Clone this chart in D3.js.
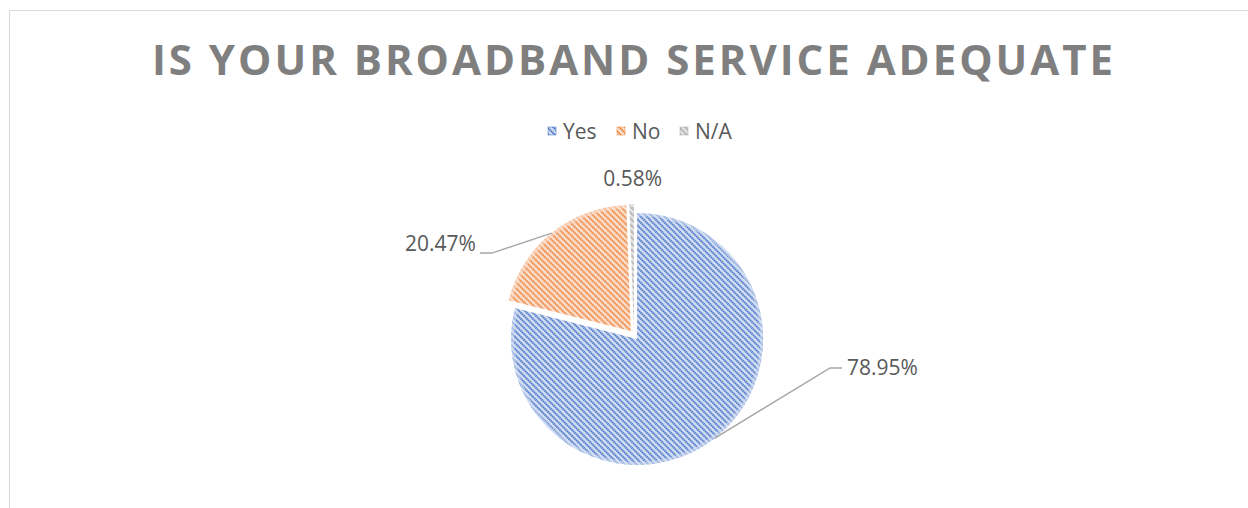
<!DOCTYPE html>
<html>
<head>
<meta charset="utf-8">
<script src="https://cdn.jsdelivr.net/npm/d3@7"></script>
<style>
  body { margin: 0; background: #fff; }
  svg { display: block; font-family: "Open Sans", sans-serif; }
</style>
</head>
<body>
<div id="chart"></div>
<script>
// data
const title = "IS YOUR BROADBAND SERVICE ADEQUATE";
const categories = ["Yes", "No", "N/A"];
const shares = [78.95, 20.47, 0.58];
const colors = ["#4472c4", "#ed7d31", "#a5a5a5"];
const lightColors = ["#d6e0f4", "#fbe2d2", "#e6e6e6"];

const width = 1248;
const height = 508;

const svg = d3.select("#chart").append("svg")
    .attr("width", width)
    .attr("height", height);

// chart frame (cropped on the right and bottom)
svg.append("rect")
    .attr("x", 9.5).attr("y", 10.5)
    .attr("width", width + 20).attr("height", height + 20)
    .attr("fill", "none")
    .attr("stroke", "#d9d9d9")
    .attr("stroke-width", 1);

// hatch patterns, one per slice
const defs = svg.append("defs");
categories.forEach((c, i) => {
    let p = defs.append("pattern")
        .attr("id", "hatch" + i)
        .attr("patternUnits", "userSpaceOnUse")
        .attr("width", 6).attr("height", 6);
    p.append("rect").attr("width", 6).attr("height", 6).attr("fill", lightColors[i]);
    p.append("path")
        .attr("d", "M-1,-1 L7,7 M-1,5 L1,7 M5,-1 L7,1")
        .attr("stroke", colors[i])
        .attr("stroke-width", 2)
        .attr("stroke-dasharray", "1.5 0.6");
});

// title
svg.append("text")
    .attr("x", 632.5).attr("y", 75)
    .attr("text-anchor", "middle")
    .attr("font-size", 42)
    .attr("font-weight", 700)
    .attr("fill", "#7f7f7f")
    .attr("textLength", 961)
    .attr("lengthAdjust", "spacing")
    .text(title);

// legend
const legendX = [548, 617, 680];
const legend = svg.append("g");
categories.forEach((c, i) => {
    legend.append("rect")
        .attr("x", legendX[i]).attr("y", 127)
        .attr("width", 8).attr("height", 8)
        .attr("fill", "url(#hatch" + i + ")")
        .attr("stroke", colors[i]).attr("stroke-width", 0.5);
    legend.append("text")
        .attr("x", legendX[i] + 15).attr("y", 139)
        .attr("font-size", 21)
        .attr("fill", "#595959")
        .text(c);
});

// pie
const cx = 634, cy = 335, r = 126, explode = 5;
const pie = d3.pie().sort(null).value(d => d)(shares);
const arc = d3.arc().innerRadius(0).outerRadius(r);
const rim = d3.arc().innerRadius(r - 3).outerRadius(r);

function dir(a){ return [Math.sin(a), -Math.cos(a)]; }

const slices = svg.append("g");
pie.forEach((d, i) => {
    let mid = (d.startAngle + d.endAngle) / 2;
    let [dx, dy] = dir(mid);
    d.cx = cx + dx * explode;
    d.cy = cy + dy * explode;
    d.mid = mid;
    let g = slices.append("g")
        .attr("transform", "translate(" + d.cx + "," + d.cy + ")");
    g.append("path")
        .attr("d", arc(d))
        .attr("fill", "url(#hatch" + i + ")");
    // soft light rim along the outer edge
    g.append("path")
        .attr("d", rim(d))
        .attr("fill", lightColors[i])
        .attr("opacity", 0.55);
});

// data labels with leader lines
const labelG = svg.append("g")
    .attr("font-size", 21)
    .attr("fill", "#595959");

function fmt(v){ return d3.format(".2f")(v) + "%"; }

// Yes: line out to the lower right
{
    let d = pie[0];
    let [dx, dy] = dir(d.mid);
    let p0 = [d.cx + dx * r, d.cy + dy * r];
    let p1 = [d.cx + 193, d.cy + 29];
    let p2 = [p1[0] + 12, p1[1]];
    labelG.append("path")
        .attr("d", d3.line()([p0, p1, p2]))
        .attr("fill", "none").attr("stroke", "#a6a6a6").attr("stroke-width", 1.5);
    labelG.append("text").attr("x", p2[0] + 5).attr("y", p2[1] + 1)
        .attr("dominant-baseline", "middle")
        .text(fmt(shares[0]));
}
// No: line out to the upper left
{
    let d = pie[1];
    let [dx, dy] = dir(d.mid);
    let p0 = [d.cx + dx * r, d.cy + dy * r];
    let p1 = [d.cx - 139, d.cy - 78];
    let p2 = [p1[0] - 12, p1[1]];
    labelG.append("path")
        .attr("d", d3.line()([p0, p1, p2]))
        .attr("fill", "none").attr("stroke", "#a6a6a6").attr("stroke-width", 1.5);
    labelG.append("text").attr("x", p2[0] - 4).attr("y", p2[1] - 8)
        .attr("text-anchor", "end")
        .attr("dominant-baseline", "middle")
        .text(fmt(shares[1]));
}
// N/A: label just above its sliver
{
    let d = pie[2];
    let [dx, dy] = dir(d.mid);
    let p = [d.cx + dx * (r + 22), d.cy + dy * (r + 22)];
    labelG.append("text").attr("x", p[0] + 31).attr("y", p[1] + 4)
        .attr("text-anchor", "end")
        .text(fmt(shares[2]));
}
</script>
</body>
</html>
